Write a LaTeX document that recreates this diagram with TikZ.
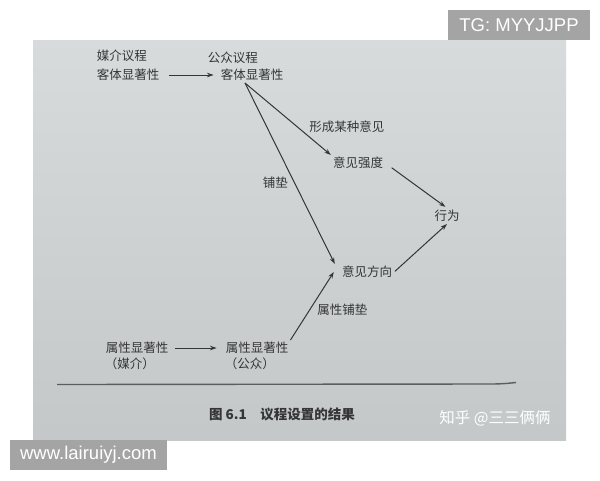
\documentclass[tikz,border=0pt]{standalone}
\usepackage{fontspec}
\setmainfont{Noto Sans CJK SC}
\newfontfamily\wmfont{Liberation Sans}
\usetikzlibrary{positioning,arrows.meta}
\definecolor{ink}{HTML}{353535}
\definecolor{paper}{HTML}{D5D9DA}
\definecolor{wm}{HTML}{A4A4A4}

\begin{document}
\begin{tikzpicture}[x=1pt,y=-1pt]
        \tikzset{concept/.style={inner sep=2pt,text=ink,font=\fontsize{12.5}{14}\selectfont},
          tag/.style={concept,inner sep=1pt},
          link/.style={draw=ink,line width=1pt,-{Stealth[length=6.5pt,width=4.5pt]}},
          stamp/.style={fill=wm,text=white,font=\wmfont\fontsize{18.5}{20}\selectfont}}
        \useasboundingbox (0,0) rectangle (600,480);
        % the photographed page
        \shade[top color=paper!95!white,bottom color=paper!92!black] (33,40) rectangle (566,440);
        \fill[wm] (448,10) rectangle (590,40);
        \node[stamp] (tg) at (519,25) {TG: MYYJJPP};
        \fill[wm] (10,440) rectangle (167,470);
        \node[stamp] (site) at (88.5,455) {www.lairuiyj.com};
        % object salience
        \node[concept] (mediaobj) at (128,75) {客体显著性};
        \node[concept,above=3pt of mediaobj.north west,anchor=south west] (mediaagenda) {媒介议程};
        \node[concept] (pubobj) at (252,75) {客体显著性};
        \node[concept,above=1pt of pubobj.north west,anchor=south west,xshift=-13pt] (pubagenda) {公众议程};
        \node[concept] (strength) at (358,163) {意见强度};
        \node[concept] (direction) at (367,272) {意见方向};
        \node[concept] (act) at (447,216) {行为};
        % attribute salience
        \node[concept] (attrmedia) at (137,348) {属性显著性};
        \node[tag,below=1pt of attrmedia.south west,anchor=north west] (medianote) {（媒介）};
        \node[concept] (attrpub) at (257,348) {属性显著性};
        \node[tag,below=1pt of attrpub.south west,anchor=north west] (pubnote) {（公众）};
        \draw[link,shorten <=8pt,shorten >=5pt] (mediaobj.east) -- (pubobj.west);
        \draw[link] ([xshift=-7pt]pubobj.south) -- (strength.north west)
          node[concept,pos=0.72,anchor=south west] (forming) {形成某种意见};
        \draw[link] ([xshift=-7pt]pubobj.south) -- ([xshift=-5pt]direction.north west)
          node[concept,pos=0.55,left=4pt] (priming) {铺垫};
        \draw[link,shorten <=8pt,shorten >=2pt] (strength.east) -- (act.north);
        \draw[link,shorten <=1pt] (direction.east) -- (act.south);
        \draw[link] (attrpub.north east) -- ([xshift=-6pt]direction.west)
          node[concept,pos=0.45,right=5pt] (attrpriming) {属性铺垫};
        \draw[link,shorten <=5pt,shorten >=7pt] (attrmedia.east) -- (attrpub.west);
        % caption
        \draw[ink!80,line width=1.4pt] (57,384.5) -- (490,384) .. controls (505,384) and (510,383) .. (516,382.5);
        \node[concept,font=\bfseries\fontsize{13.5}{15}\selectfont] (caption) at (282,414) {图 6.1\quad 议程设置的结果};
        \node[text=white,font=\fontsize{15.5}{17}\selectfont] (zhihu) at (495,418) {知乎 @三三俩俩};
      \end{tikzpicture}
\end{document}
